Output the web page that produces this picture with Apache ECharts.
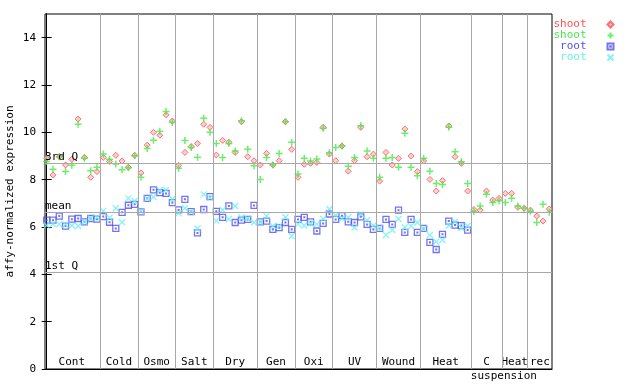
<!DOCTYPE html>
<html><head><meta charset="utf-8">
<script src="https://cdn.jsdelivr.net/npm/echarts@6/dist/echarts.min.js"></script>
<style>html,body{margin:0;padding:0;background:#fff}#c{width:640px;height:384px}</style>
</head><body><div id="c"></div>
<script>
const groups = ['Cont','Cold','Osmo','Salt','Dry','Gen','Oxi','UV','Wound','Heat','C suspension','Heat','rec'];
const groupSizes = [9,6,6,6,7,6,6,7,7,8,5,4,4];
const yTicks = [0,2,4,6,8,10,12,14];
const refNames = ['3rd Q','mean','1st Q'];
const refValues = [8.69, 6.62, 4.08];

const shootRep1 = [
 8.9,8.2,8.97,8.62,8.86,10.56,8.94,8.1,8.34,
 8.94,8.77,9.03,8.79,8.52,9.03,
 8.28,9.46,10.0,9.88,10.74,10.48,
 8.6,9.15,9.4,9.53,10.34,10.21,
 9.04,9.66,9.58,9.15,10.45,8.97,8.8,
 8.62,9.11,8.62,8.8,10.45,9.28,
 8.1,8.65,8.69,8.73,10.21,9.08,
 8.8,9.42,8.36,8.8,10.21,8.97,9.08,
 7.94,9.15,8.62,8.9,10.14,9.0,8.34,
 8.79,8.01,7.52,7.96,10.27,8.97,8.69,7.52,
 6.74,6.71,7.52,7.14,7.21,
 7.42,7.42,6.83,6.79,
 6.71,6.46,6.25,6.76];
const shootRep2 = [
 8.77,8.44,8.97,8.35,8.61,10.34,8.9,8.38,8.52,
 9.08,8.86,8.66,8.42,8.5,9.01,
 8.1,9.32,9.67,10.05,10.88,10.42,
 8.48,9.65,9.36,8.95,10.59,10.0,
 9.53,8.94,9.53,9.21,10.49,9.28,8.59,
 8.01,8.94,8.62,9.11,10.45,9.58,
 8.24,8.9,8.79,8.87,10.17,9.14,
 9.36,9.42,8.57,8.94,10.28,9.21,8.9,
 8.1,8.9,8.94,8.52,9.96,8.52,8.17,
 8.9,8.36,7.84,7.8,10.21,9.18,8.76,7.84,
 6.65,6.89,7.38,7.04,7.11,
 7.04,7.21,6.89,6.79,
 6.67,6.19,6.96,6.62];
const rootRep1 = [
 6.29,6.29,6.46,6.04,6.33,6.36,6.22,6.36,6.33,
 6.44,6.2,5.94,6.62,6.92,6.96,
 6.64,7.21,7.57,7.45,7.42,7.03,
 6.72,7.17,6.65,5.75,6.74,7.28,
 6.66,6.41,6.89,6.19,6.29,6.32,6.91,
 6.22,6.25,5.9,5.97,6.19,5.9,
 6.32,6.41,6.22,5.83,6.15,6.55,
 6.32,6.48,6.22,6.19,6.43,6.11,5.9,
 5.94,6.32,6.11,6.71,5.77,6.32,5.77,
 5.94,5.35,5.05,5.69,6.25,6.08,6.06,5.87,
 null,null,null,null,null,
 null,null,null,null,
 null,null,null,null];
const rootRep2 = [
 6.06,6.12,6.12,6.1,6.06,6.04,6.22,6.36,6.4,
 6.68,6.39,6.79,6.2,7.21,7.1,
 6.65,7.2,7.27,7.55,7.57,7.18,
 6.58,6.79,6.63,5.94,7.38,7.24,
 6.27,6.72,6.34,6.89,6.41,6.36,6.19,
 6.2,6.46,6.04,6.04,6.41,5.62,
 6.12,6.06,6.15,6.12,6.34,6.76,
 6.5,6.36,6.41,5.98,6.53,6.29,6.06,
 5.97,5.66,5.87,6.34,5.98,6.04,6.19,
 5.94,5.66,5.38,5.45,6.06,6.22,5.97,6.04,
 null,null,null,null,null,
 null,null,null,null,
 null,null,null,null];

const FONT = 'DejaVu Sans Mono';
const GRAY = '#a8a8a8';
const COLORS = {red:'#ff5050', green:'#48e848', blue:'#5050f0', cyan:'#66f0f0'};

const starts = [], centers = [], bounds = [];
let acc = 0;
groupSizes.forEach((n, g) => {
  starts.push(acc - 0.5);
  centers.push(acc + (n - 1) / 2);
  acc += n;
  if (g < groupSizes.length - 1) bounds.push(acc - 0.5);
});
const firstWords = groups.map(s => s.split(' ')[0]);
const restWords = groups.map(s => s.split(' ').slice(1).join(' '));
const restIdx = restWords.map((w, i) => w ? i : -1).filter(i => i >= 0);
const restPos = restIdx.map(i => starts[i]);
const restTxt = restIdx.map(i => restWords[i]);

function toPts(arr) { return arr.map((v, i) => v == null ? null : [i, v]).filter(p => p); }
function lookup(vals, list, v) { const i = vals.findIndex(c => Math.abs(c - v) < 1e-6); return i >= 0 ? list[i] : ''; }

const chart = echarts.init(document.getElementById('c'), null, {renderer: 'canvas'});
const baseSeries = (name, data, symbol, size, style) => ({
  name, type: 'scatter', data: toPts(data), symbol, symbolSize: size,
  itemStyle: style, emphasis: {disabled: true}, silent: true, animation: false
});

const series = [
  baseSeries('shoot1', shootRep1, 'diamond', 6, {color: '#ffc4c4', borderColor: COLORS.red, borderWidth: 1}),
  baseSeries('shoot2', shootRep2, 'path://M0,5L10,5M5,0L5,10', 7, {color: 'none', borderColor: COLORS.green, borderWidth: 1.5}),
  baseSeries('root1', rootRep1, 'path://M0,0L10,0L10,10L0,10ZM4.4,4.4L5.6,4.4L5.6,5.6L4.4,5.6Z', 6, {color: 'none', borderColor: COLORS.blue, borderWidth: 1.3}),
  baseSeries('root2', rootRep2, 'path://M0,0L10,10M10,0L0,10', 6, {color: 'none', borderColor: COLORS.cyan, borderWidth: 1.3})
];
series[0].markLine = {
  silent: true, symbol: ['none', 'none'], animation: false,
  lineStyle: {color: GRAY, width: 1, type: 'solid'},
  label: {show: false},
  data: bounds.map(b => ({xAxis: b})).concat(refValues.map((v, i) => ({
    yAxis: v,
    label: {show: true, position: 'insideStartTop', formatter: refNames[i], distance: [0, 1],
            color: '#000', fontFamily: FONT, fontSize: 11}
  })))
};

chart.setOption({
  animation: false,
  grid: {left: 45, right: 88, top: 14, bottom: 15, outerBoundsMode: 'none', containLabel: false,
         show: true, borderColor: '#000', borderWidth: 1, backgroundColor: 'transparent'},
  legend: {
    orient: 'vertical', right: 24, top: 19, align: 'right', padding: 0,
    itemWidth: 6, itemHeight: 6, itemGap: 0, selectedMode: false,
    formatter: n => '{t|' + n.replace(/\d/g, '') + '}',
    textStyle: {fontFamily: FONT, fontSize: 11,
      rich: {t: {width: 34, align: 'right', padding: [0, 16, 0, 0], lineHeight: 11, fontFamily: FONT, fontSize: 11}}},
    data: [
      {name: 'shoot1', textStyle: {color: COLORS.red}},
      {name: 'shoot2', textStyle: {color: COLORS.green}},
      {name: 'root1', textStyle: {color: COLORS.blue}},
      {name: 'root2', textStyle: {color: COLORS.cyan}}
    ]
  },
  xAxis: [
    {type: 'value', min: -0.27, max: 80.43, position: 'bottom',
     axisLine: {show: true, lineStyle: {color: '#000'}}, axisTick: {show: false}, splitLine: {show: false},
     axisLabel: {inside: true, margin: 1, customValues: centers, color: '#000', fontFamily: FONT, fontSize: 11,
                 formatter: v => lookup(centers, firstWords, v)}},
    {type: 'value', min: -0.27, max: 80.43, position: 'bottom',
     axisLine: {show: false}, axisTick: {show: false}, splitLine: {show: false},
     axisLabel: {inside: false, margin: 2, align: 'left', customValues: restPos,
                 color: '#000', fontFamily: FONT, fontSize: 11,
                 formatter: v => lookup(restPos, restTxt, v)}}
  ],
  yAxis: [
    {type: 'value', min: 0, max: 15, interval: 2, position: 'left',
     name: 'affy-normalized expression', nameLocation: 'middle', nameGap: 29, nameMoveOverlap: false,
     nameTextStyle: {fontFamily: FONT, fontSize: 11, color: '#000'},
     axisLine: {show: true, lineStyle: {color: '#000'}},
     axisTick: {show: true, inside: true, length: 5, lineStyle: {color: '#000'}, customValues: yTicks},
     splitLine: {show: false},
     axisLabel: {margin: 9, color: '#000', fontFamily: FONT, fontSize: 11, customValues: yTicks}},
    {type: 'value', min: 0, max: 15, interval: 2, position: 'right',
     axisLine: {show: true, lineStyle: {color: '#000'}},
     axisTick: {show: true, inside: true, length: 5, lineStyle: {color: '#000'}, customValues: yTicks},
     splitLine: {show: false}, axisLabel: {show: false}}
  ],
  series
});
</script></body></html>
